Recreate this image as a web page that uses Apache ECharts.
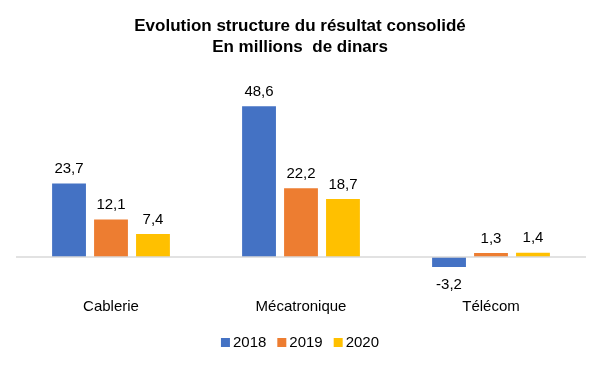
<!DOCTYPE html>
<html><head><meta charset="utf-8">
<script src="https://cdn.jsdelivr.net/npm/echarts@6/dist/echarts.min.js"></script>
<style>html,body{margin:0;padding:0;background:#fff}#c{width:600px;height:370px}</style>
</head><body><div id="c"></div>
<script>
const categories = ['Cablerie', 'Mécatronique', 'Télécom'];
const years = ['2018', '2019', '2020'];
const v2018 = [23.7, 48.6, -3.2];
const v2019 = [12.1, 22.2, 1.3];
const v2020 = [7.4, 18.7, 1.4];
const colors = ['#4472C4', '#ED7D31', '#FFC000'];

const font = 'Liberation Sans, Arial, sans-serif';
function fmt(p){ return String(p.value).replace('.', ','); }
function mk(name, vals, color, idx){
  const s = {
    name: name, type: 'bar',
    data: vals.map(v => v < 0 ? {value: v, label: {position: 'bottom', distance: 10}} : v),
    itemStyle: {color: color},
    barGap: '24%', barCategoryGap: '38%',
    label: {show: true, position: 'top', formatter: fmt, color: '#000', fontFamily: font, fontSize: 15, distance: 7},
    emphasis: {disabled: true}
  };
  if (idx === 0) {
    s.markLine = {silent: true, symbol: 'none', label: {show: false},
      lineStyle: {color: '#D9D9D9', type: 'solid', width: 1.5}, data: [{yAxis: 0}], animation: false};
  }
  return s;
}
const chart = echarts.init(document.getElementById('c'));
chart.setOption({
  animation: false,
  title: {text: 'Evolution structure du résultat consolidé\nEn millions  de dinars', left: 'center', top: 11,
    textStyle: {fontFamily: font, fontSize: 17, fontWeight: 'bold', color: '#000', lineHeight: 21}},
  legend: {data: years, top: 330, left: 'center', itemWidth: 9, itemHeight: 9, itemGap: 11, icon: 'rect',
    textStyle: {fontFamily: font, fontSize: 15, color: '#000', padding: [0, 0, 0, -2]}},
  grid: {left: 16, right: 14, top: 102, bottom: 97.5},
  xAxis: {type: 'category', data: categories, axisLine: {show: false}, axisTick: {show: false},
    axisLabel: {fontFamily: font, fontSize: 15, color: '#000', margin: 27}},
  yAxis: {type: 'value', min: -5, max: 50, show: false, splitLine: {show: false}},
  series: [mk(years[0], v2018, colors[0], 0), mk(years[1], v2019, colors[1], 1), mk(years[2], v2020, colors[2], 2)]
});
</script></body></html>
